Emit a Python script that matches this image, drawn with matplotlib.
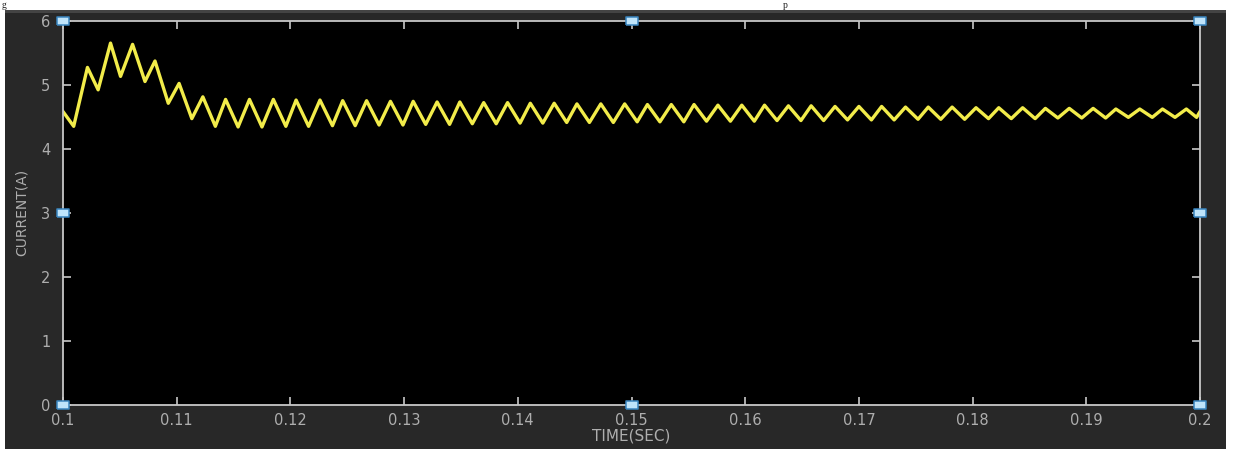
import matplotlib
matplotlib.use("Agg")
import matplotlib.pyplot as plt
from matplotlib.patches import Rectangle

plt.rcParams['font.family'] = ['DejaVu Sans']

# ---- data (extremes of the current waveform) ----
start_t = [0.1000, 0.10094, 0.10215, 0.10309, 0.10418, 0.10506, 0.10612,
           0.10721, 0.10809, 0.10926, 0.11021, 0.11133]
start_v = [4.58, 4.35, 5.27, 4.92, 5.65, 5.13, 5.63,
           5.05, 5.37, 4.71, 5.02, 4.47]

peak_t = [0.1123, 0.1143, 0.1164, 0.1185, 0.1205, 0.1226, 0.1246, 0.1267,
          0.1288, 0.1308, 0.1329, 0.1349, 0.1370, 0.1391, 0.1411, 0.1432,
          0.1452, 0.1473, 0.1494, 0.1514, 0.1535, 0.1555, 0.1576, 0.1597,
          0.1617, 0.1638, 0.1658, 0.1679, 0.1700, 0.1720, 0.1741, 0.1761,
          0.1782, 0.1803, 0.1823, 0.1844, 0.1864, 0.1885, 0.1906, 0.1926,
          0.1947, 0.1967, 0.1988]
peak_v = [4.81, 4.77, 4.77, 4.77, 4.76, 4.76, 4.75, 4.75,
          4.74, 4.74, 4.73, 4.73, 4.72, 4.72, 4.71, 4.71,
          4.70, 4.70, 4.70, 4.69, 4.69, 4.69, 4.68, 4.68,
          4.68, 4.67, 4.67, 4.66, 4.66, 4.66, 4.65, 4.65,
          4.65, 4.64, 4.64, 4.64, 4.63, 4.63, 4.63, 4.62,
          4.62, 4.62, 4.62]
trough_t = [0.1134, 0.1154, 0.1175, 0.1196, 0.1216, 0.1237, 0.1257, 0.1278,
            0.1299, 0.1319, 0.1340, 0.1360, 0.1381, 0.1402, 0.1422, 0.1443,
            0.1463, 0.1484, 0.1505, 0.1525, 0.1546, 0.1566, 0.1587, 0.1608,
            0.1628, 0.1649, 0.1669, 0.1690, 0.1711, 0.1731, 0.1752, 0.1772,
            0.1793, 0.1814, 0.1834, 0.1855, 0.1875, 0.1896, 0.1917, 0.1937,
            0.1958, 0.1978, 0.1997]
trough_v = [4.35, 4.34, 4.34, 4.35, 4.35, 4.36, 4.36, 4.37,
            4.37, 4.38, 4.38, 4.39, 4.39, 4.40, 4.40, 4.41,
            4.41, 4.41, 4.42, 4.42, 4.42, 4.43, 4.43, 4.43,
            4.44, 4.44, 4.44, 4.45, 4.45, 4.45, 4.46, 4.46,
            4.46, 4.47, 4.47, 4.47, 4.48, 4.48, 4.48, 4.49,
            4.49, 4.49, 4.49]
end_t = [0.2000]
end_v = [4.58]

x_ticks = [0.1, 0.11, 0.12, 0.13, 0.14, 0.15, 0.16, 0.17, 0.18, 0.19, 0.2]
x_ticklabels = ['0.1', '0.11', '0.12', '0.13', '0.14', '0.15', '0.16',
                '0.17', '0.18', '0.19', '0.2']
y_ticks = [0, 1, 2, 3, 4, 5, 6]

# ---- assemble trace ----
time_s = list(start_t)
current_a = list(start_v)
for pt, pv, tt, tv in zip(peak_t, peak_v, trough_t, trough_v):
    time_s += [pt, tt]
    current_a += [pv, tv]
time_s += end_t
current_a += end_v

W, H = 1236, 449
fig = plt.figure(figsize=(W / 100, H / 100), dpi=100, facecolor='white')

# dark scope panel (behind the axes)
fig.patches.append(Rectangle((5 / W, 0), (1226 - 5) / W, (H - 10) / H,
                             transform=fig.transFigure, facecolor='#282828',
                             edgecolor='none', zorder=-10))
fig.patches.append(Rectangle((5 / W, (H - 13) / H), (1226 - 5) / W, 3 / H,
                             transform=fig.transFigure, facecolor='#444444',
                             edgecolor='none', zorder=-9))

# caption fragments in the white strip above
fig.text(2 / W, (H - 0.5) / H, 'g', fontsize=7, color='#222222',
         family='Liberation Serif', va='top')
fig.text(783 / W, (H - 0.5) / H, 'p', fontsize=7, color='#222222',
         family='Liberation Serif', va='top')

ax = fig.add_axes([63 / W, 1 - 404.7 / H, (1200 - 63) / W, (404.7 - 20.7) / H])
ax.set_zorder(1)
ax.set_facecolor('black')
ax.plot(time_s, current_a, color='#f2ec4a', linewidth=2.4, solid_joinstyle='round')

ax.set_xlim(0.1, 0.2)
ax.set_ylim(0, 6)
ax.set_xticks(x_ticks)
ax.set_xticklabels(x_ticklabels)
ax.set_yticks(y_ticks)

spine_c = '#c8c8c8'
lab_c = '#aeaeae'
for s in ax.spines.values():
    s.set_color(spine_c)
    s.set_linewidth(1.3)
ax.tick_params(direction='in', length=6, width=1.2, color=spine_c,
               top=True, right=True, labelcolor=lab_c, labelsize=10.5)
ax.tick_params(axis='x', pad=6)
ax.tick_params(axis='y', pad=9)
ax.set_xlabel('TIME(SEC)', color=lab_c, fontsize=11, labelpad=0)
ax.set_ylabel('CURRENT(A)', color=lab_c, fontsize=10, labelpad=9)

# selection handles (small wide rectangles)
hx = [0.1, 0.15, 0.2, 0.1, 0.2, 0.1, 0.15, 0.2]
hy = [6, 6, 6, 3, 3, 0, 0, 0]
handle_marker = [(-1.35, -1.0), (1.35, -1.0), (1.35, 1.0), (-1.35, 1.0), (-1.35, -1.0)]
ax.plot(hx, hy, linestyle='none', marker=handle_marker, markersize=8,
        markerfacecolor='#bfe4fa', markeredgecolor='#3a86c0',
        markeredgewidth=1.1, clip_on=False, zorder=5)

fig.savefig('out.png', dpi=100, facecolor='white')
